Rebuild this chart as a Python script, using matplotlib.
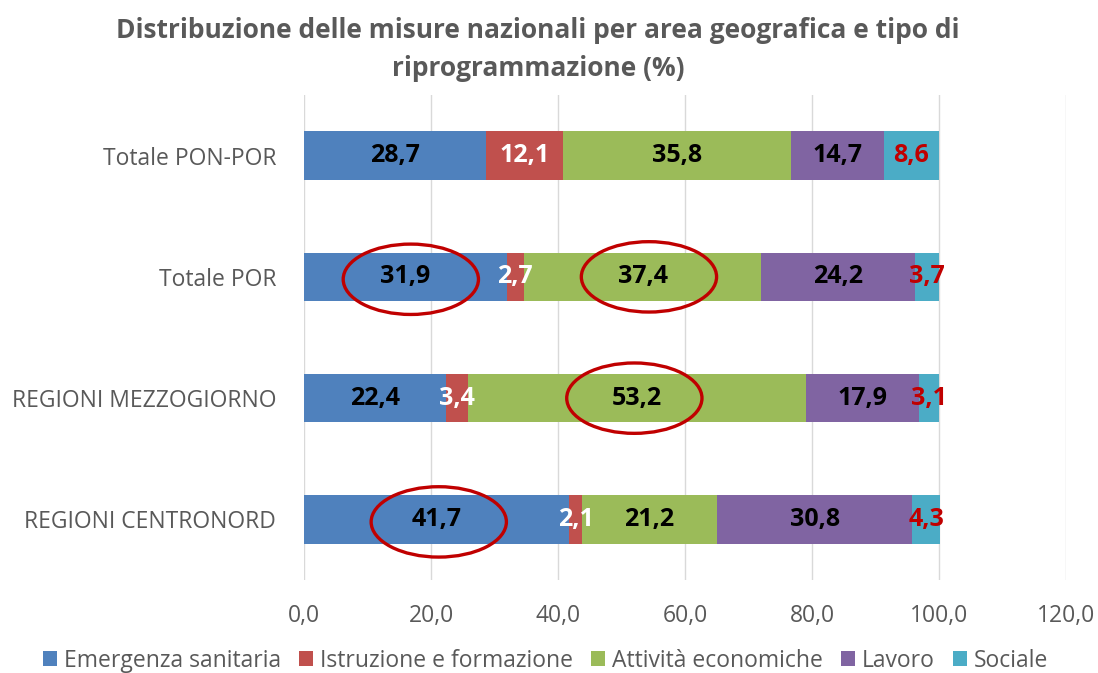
import matplotlib.pyplot as plt
from matplotlib.patches import Ellipse

categories = ['Totale PON-POR', 'Totale POR', 'REGIONI MEZZOGIORNO', 'REGIONI CENTRONORD']
series = ['Emergenza sanitaria', 'Istruzione e formazione', 'Attività economiche', 'Lavoro', 'Sociale']
emergenza = [28.7, 31.9, 22.4, 41.7]
istruzione = [12.1, 2.7, 3.4, 2.1]
attivita = [35.8, 37.4, 53.2, 21.2]
lavoro = [14.7, 24.2, 17.9, 30.8]
sociale = [8.6, 3.7, 3.1, 4.3]
xticks = [0, 20, 40, 60, 80, 100, 120]

values = [emergenza, istruzione, attivita, lavoro, sociale]
colors = ['#4F81BD', '#C0504D', '#9BBB59', '#8064A2', '#4BACC6']
label_colors = ['black', 'white', 'black', 'black', '#C00000']
gray = '#595959'

plt.rcParams['font.family'] = ['Open Sans', 'DejaVu Sans']

fig = plt.figure(figsize=(10.98, 6.73), dpi=100)
ax = fig.add_axes([0.277, 0.138, 0.694, 0.721])

ypos = list(range(len(categories)))
left = [0] * len(categories)
for vals, col, lcol, name in zip(values, colors, label_colors, series):
    ax.barh(ypos, vals, left=left, height=0.4, color=col, label=name, zorder=2)
    for y, v, l in zip(ypos, vals, left):
        ax.text(l + v / 2, y, f'{v:.1f}'.replace('.', ','), ha='center', va='center',
                color=lcol, fontsize=18, fontweight='bold', zorder=4)
    left = [a + b for a, b in zip(left, vals)]

# red circles highlighting values
for cx, cy in [(16.8, 1.02), (54.3, 1.0), (52.0, 2.0), (21.2, 3.02)]:
    ax.add_patch(Ellipse((cx, cy), 21.3, 0.58, fill=False, edgecolor='#C00000',
                         linewidth=2.4, zorder=5))

ax.set_xlim(0, 120)
ax.set_ylim(3.5, -0.5)
ax.set_xticks(xticks)
ax.set_xticklabels([f'{t:.1f}'.replace('.', ',') for t in xticks])
ax.set_yticks(ypos)
ax.set_yticklabels(categories)
ax.tick_params(axis='both', length=0, labelcolor=gray)
ax.tick_params(axis='x', pad=17, labelsize=16.5)
ax.tick_params(axis='y', pad=20, labelsize=16.5)
ax.grid(axis='x', color='#D9D9D9', linewidth=1, zorder=0)
for s in ax.spines.values():
    s.set_visible(False)

fig.suptitle('Distribuzione delle misure nazionali per area geografica e tipo di\nriprogrammazione (%)',
             x=0.49, y=0.975, fontsize=19, fontweight='bold', color=gray, linespacing=1.55)

fig.legend(loc='lower center', bbox_to_anchor=(0.497, -0.03), ncol=5, frameon=False,
           fontsize=16.5, labelcolor=gray, handlelength=0.6, handleheight=0.6,
           handletextpad=0.3, columnspacing=0.8)

fig.savefig('out.png', dpi=100)
